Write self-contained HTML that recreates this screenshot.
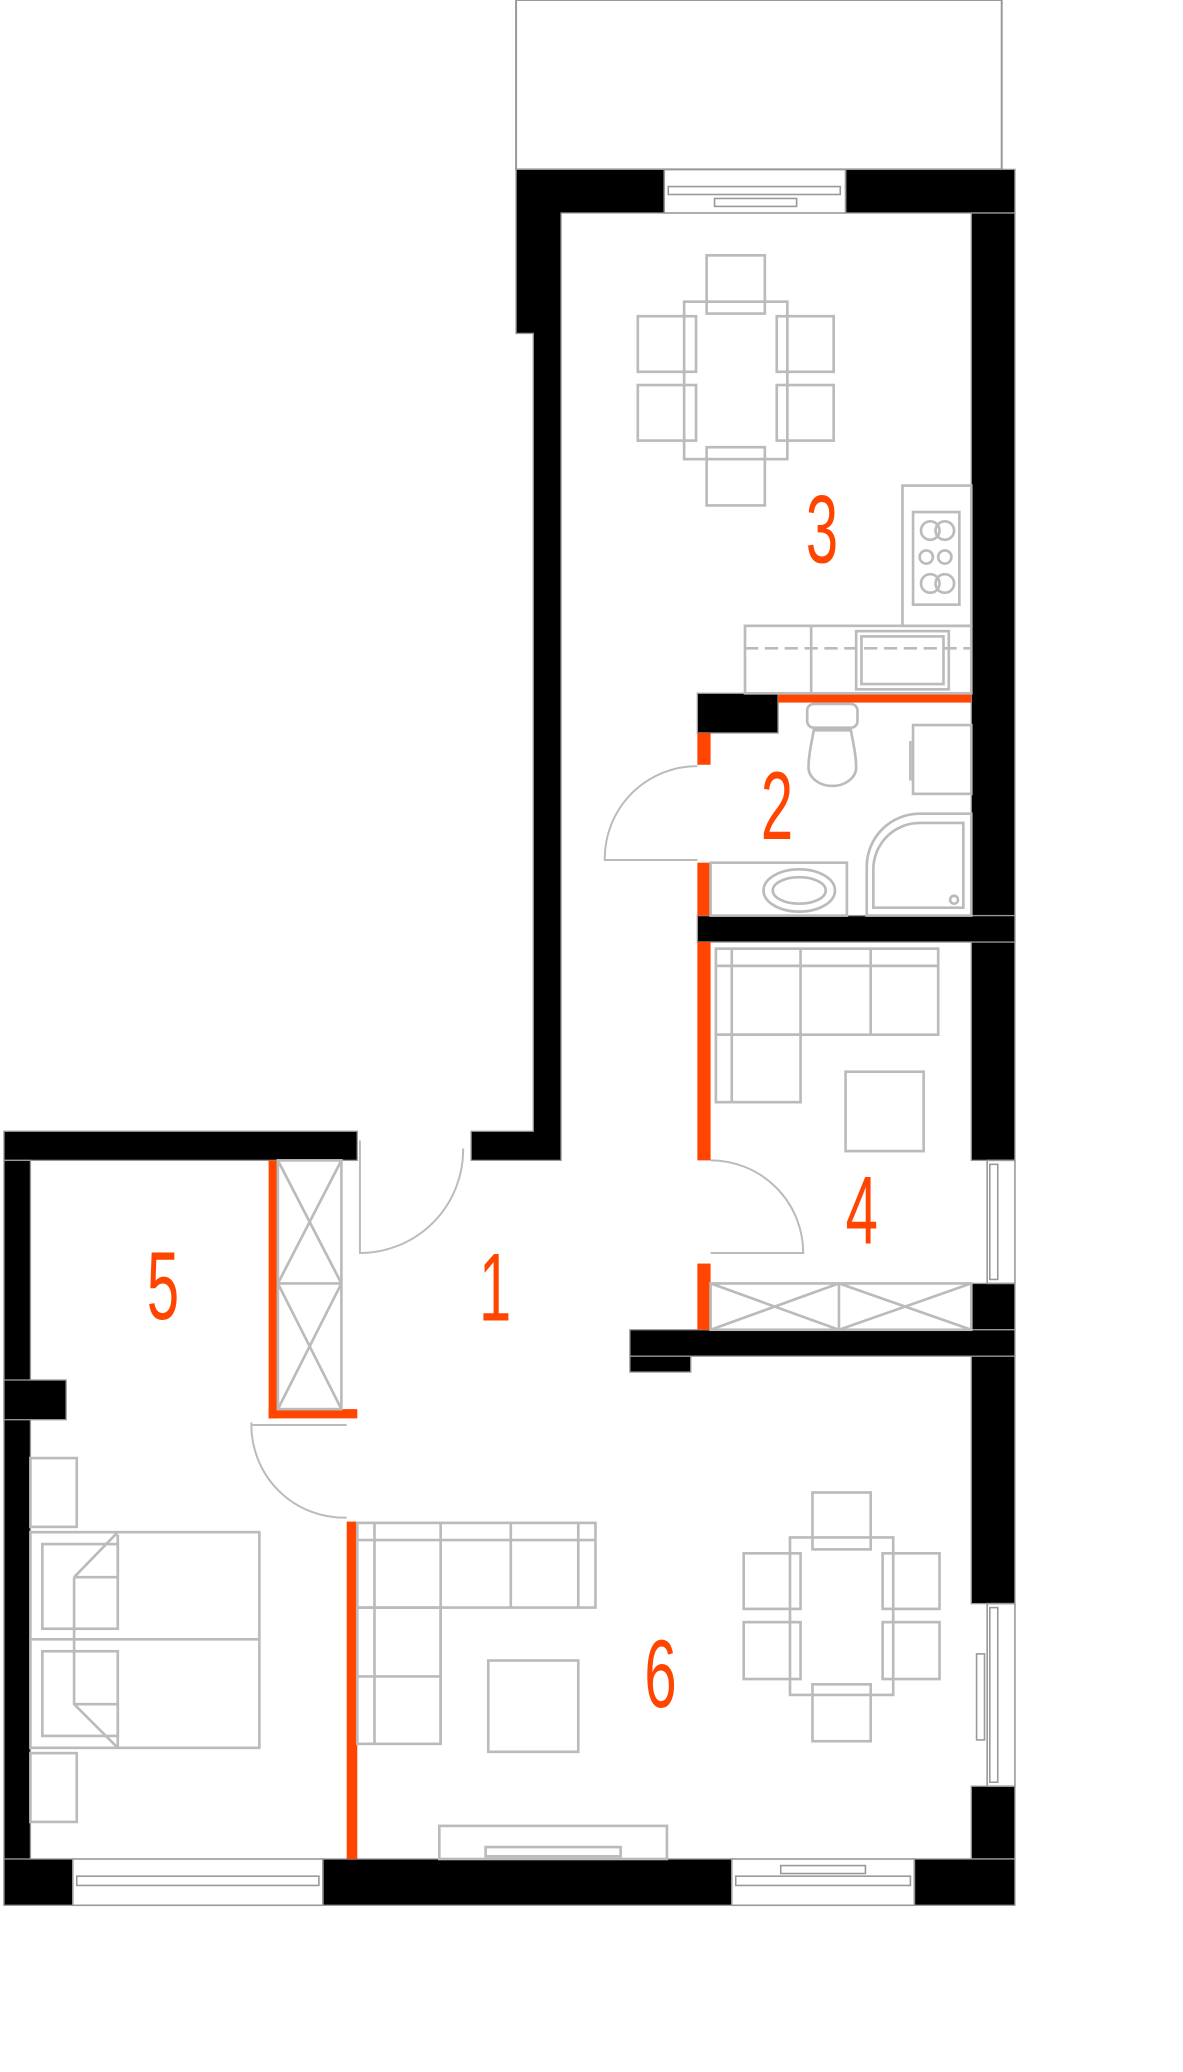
<!DOCTYPE html>
<html><head><meta charset="utf-8"><style>
html,body{margin:0;padding:0;background:#fff;}
svg{display:block;}
.w{fill:#000;stroke:#999;stroke-width:1}
.o{fill:#ff4500}
.f{fill:none;stroke:#bbb;stroke-width:2}
.t{fill:#ff4500;font-family:"Liberation Sans",sans-serif;font-size:73px;}
</style></head><body>
<svg width="1183" height="2072" viewBox="0 0 894 1566" preserveAspectRatio="none" xmlns="http://www.w3.org/2000/svg">
<rect x="390" y="0" width="367" height="128" fill="none" stroke="#999" stroke-width="1.5"/>
<path class="w" d="M390 128H502V161H424V855H424V877H356V855H403V252H390Z"/>
<rect class="w" x="639" y="128" width="128" height="33"/>
<rect class="w" x="734" y="161" width="33" height="716"/>
<rect class="w" x="527" y="524" width="61" height="30"/>
<rect class="w" x="527" y="692" width="240" height="20"/>
<rect class="w" x="3" y="855" width="267" height="22"/>
<rect class="w" x="3" y="877" width="20" height="563"/>
<rect class="w" x="3" y="1043" width="47" height="30"/>
<rect class="w" x="734" y="970" width="33" height="35"/>
<rect class="w" x="476" y="1005" width="291" height="20"/>
<rect class="w" x="476" y="1025" width="46" height="12"/>
<rect class="w" x="734" y="1025" width="33" height="187"/>
<rect class="w" x="734" y="1350" width="33" height="55"/>
<rect class="w" x="3" y="1405" width="52" height="35"/>
<rect class="w" x="244" y="1405" width="309" height="35"/>
<rect class="w" x="691" y="1405" width="76" height="35"/>
<g fill="none" stroke="#999" stroke-width="1.2">
<rect x="502" y="128" width="137" height="33"/>
<rect x="505" y="141" width="130" height="6"/><rect x="540" y="150" width="62" height="6"/>
<rect x="55" y="1405" width="189" height="35"/><rect x="58" y="1418" width="183" height="7"/>
<rect x="553" y="1405" width="138" height="35"/><rect x="556" y="1418" width="132" height="7"/><rect x="590" y="1410" width="64" height="6"/>
<rect x="746" y="877" width="21" height="93"/><rect x="748" y="880" width="6" height="87"/>
<rect x="746" y="1212" width="21" height="138"/><rect x="748" y="1215" width="6" height="132"/><rect x="738" y="1250" width="6" height="65"/>
</g>
<rect class="o" x="203" y="877" width="7" height="195"/>
<rect class="o" x="203" y="1065" width="67" height="7"/>
<rect class="o" x="262" y="1150" width="8" height="255"/>
<rect class="o" x="527" y="712" width="10" height="165"/>
<rect class="o" x="527" y="955" width="10" height="50"/>
<rect class="o" x="527" y="554" width="10" height="24"/>
<rect class="o" x="527" y="652" width="10" height="40"/>
<rect class="o" x="588" y="524" width="146" height="7"/>
<g fill="none" stroke="#bbb" stroke-width="1.5">
<path d="M272 862V947A78 78 0 0 0 350 868"/>
<path d="M537 877A70 70 0 0 1 607 947H537"/>
<path d="M527 579A70 70 0 0 0 457 650H527"/>
<path d="M190 1075A70 70 0 0 0 262 1147"/>
<line x1="190" y1="1077" x2="262" y2="1077"/>
</g>
<g class="f">
<rect x="517" y="228" width="78" height="119"/>
<rect x="534" y="193" width="44" height="44"/><rect x="534" y="338" width="44" height="44"/>
<rect x="482" y="239" width="44" height="42"/><rect x="482" y="291" width="44" height="42"/>
<rect x="587" y="239" width="43" height="42"/><rect x="587" y="291" width="43" height="42"/>
<rect x="682" y="367" width="52" height="106"/>
<rect x="690" y="387" width="35" height="70"/>
<circle cx="703" cy="401" r="7"/><circle cx="714" cy="401" r="7"/><circle cx="700" cy="421" r="5"/><circle cx="714" cy="421" r="5"/><circle cx="703" cy="441" r="7"/><circle cx="714" cy="441" r="7"/>
<rect x="563" y="473" width="171" height="51"/>
<line x1="613" y1="473" x2="613" y2="524"/>
<rect x="647" y="477" width="70" height="44"/><rect x="651" y="481" width="62" height="36"/>
<line x1="563" y1="490" x2="734" y2="490" stroke-dasharray="10 5"/>
<rect x="610" y="532" width="38" height="18" rx="5"/>
<path d="M615 552h28c2 10 4 20 4 28a18 14 0 0 1-36 0c0-8 2-18 4-28z"/>
<rect x="690" y="548" width="44" height="52"/><line x1="688" y1="560" x2="688" y2="590"/>
<path d="M655 692V655a40 40 0 0 1 40-40h39v77z"/>
<path d="M660 686V657a35 35 0 0 1 35-35h33v64z"/><circle cx="721" cy="680" r="3"/>
<rect x="537" y="652" width="103" height="40"/>
<ellipse cx="604" cy="673" rx="27" ry="16"/><ellipse cx="604" cy="673" rx="20" ry="10"/>
<rect x="541" y="717" width="168" height="65"/><line x1="541" y1="730" x2="709" y2="730"/>
<line x1="605" y1="717" x2="605" y2="782"/><line x1="658" y1="717" x2="658" y2="782"/><line x1="553" y1="717" x2="553" y2="833"/>
<rect x="541" y="782" width="64" height="51"/>
<rect x="639" y="810" width="59" height="60"/>
<rect x="537" y="970" width="197" height="35"/><line x1="634" y1="970" x2="634" y2="1005"/>
<path d="M537 970L634 1005M537 1005L634 970M634 970L734 1005M634 1005L734 970"/>
<rect x="210" y="877" width="48" height="188"/><line x1="210" y1="970" x2="258" y2="970"/>
<path d="M210 877L258 970M258 877L210 970M210 970L258 1065M258 970L210 1065"/>
<rect x="23" y="1158" width="173" height="163"/><line x1="23" y1="1239" x2="196" y2="1239"/>
<rect x="32" y="1167" width="57" height="64"/><rect x="32" y="1248" width="57" height="64"/>
<path d="M56 1192L89 1158M56 1192V1288L89 1321M56 1192H89V1160M56 1288H89V1320"/>
<rect x="23" y="1102" width="35" height="52"/><rect x="23" y="1325" width="35" height="52"/>
<rect x="270" y="1151" width="180" height="64"/><line x1="283" y1="1151" x2="283" y2="1318"/>
<line x1="333" y1="1151" x2="333" y2="1318"/><line x1="386" y1="1151" x2="386" y2="1215"/><line x1="437" y1="1151" x2="437" y2="1215"/>
<line x1="270" y1="1164" x2="450" y2="1164"/>
<rect x="270" y="1215" width="63" height="103"/><line x1="270" y1="1267" x2="333" y2="1267"/>
<rect x="369" y="1255" width="68" height="69"/>
<rect x="332" y="1380" width="172" height="25"/><rect x="367" y="1396" width="102" height="7"/>
<rect x="597" y="1162" width="78" height="119"/>
<rect x="614" y="1128" width="44" height="43"/><rect x="614" y="1273" width="44" height="43"/>
<rect x="562" y="1174" width="43" height="42"/><rect x="562" y="1226" width="43" height="43"/>
<rect x="667" y="1174" width="43" height="42"/><rect x="667" y="1226" width="43" height="43"/>
</g>
<text class="t" transform="translate(609,425) scale(0.6,1)">3</text>
<text class="t" transform="translate(575,634) scale(0.6,1)">2</text>
<text class="t" transform="translate(639,940) scale(0.6,1)">4</text>
<text class="t" transform="translate(362,998) scale(0.6,1)">1</text>
<text class="t" transform="translate(111,997) scale(0.6,1)">5</text>
<text class="t" transform="translate(487,1290) scale(0.6,1)">6</text>
</svg>
</body></html>
